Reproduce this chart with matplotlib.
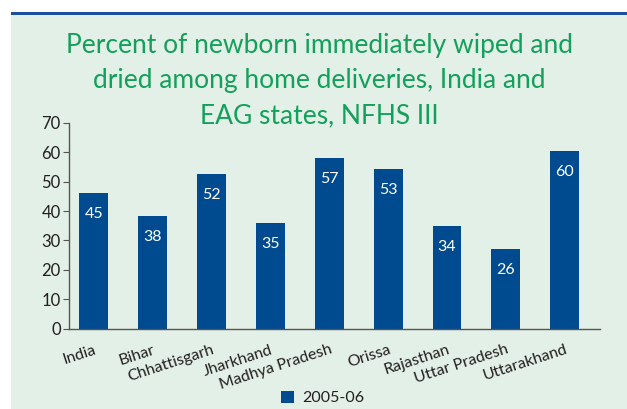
import numpy as np
import matplotlib
matplotlib.use("Agg")
from matplotlib import pyplot as plt
from matplotlib.patches import Rectangle

# data
estados = ["India", "Bihar", "Chhattisgarh", "Jharkhand", "Madhya Pradesh",
           "Orissa", "Rajasthan", "Uttar Pradesh", "Uttarakhand"]
alturas = [46.1, 38.3, 52.6, 35.9, 58.0, 54.3, 34.9, 27.1, 60.4]
etiquetas = ["45", "38", "52", "35", "57", "53", "34", "26", "60"]
yticks = [0, 10, 20, 30, 40, 50, 60, 70]
serie = "2005-06"
titulo = ("Percent of newborn immediately wiped and\n"
          "dried among home deliveries, India and\n"
          "EAG states, NFHS III")

fondo = "#e3f0e7"
azul = "#004a8f"
verde = "#13a05a"
texto = "#231f20"

plt.rcParams["font.family"] = ["Lato", "DejaVu Sans"]

fig = plt.figure(figsize=(6.27, 4.09), dpi=100)
fig.patch.set_facecolor("white")
# panel verde y linea azul arriba
fig.patches.append(Rectangle((11/627, 0), 1, (409-14)/409, transform=fig.transFigure,
                             facecolor=fondo, edgecolor="none", zorder=-2))
fig.patches.append(Rectangle((11/627, (409-15)/409), 1, 3/409, transform=fig.transFigure,
                             facecolor="#1c4f9c", edgecolor="none", zorder=-1))

ax = fig.add_axes([0.110, 0.196, 0.847, 0.504])
ax.set_zorder(2)
ax.set_facecolor("none")
x = np.arange(len(estados))
barras = ax.bar(x, alturas, width=0.49, color=azul, zorder=2)
for xi, h, lab in zip(x, alturas, etiquetas):
    ax.annotate(lab, (xi, h), xytext=(0, -10), textcoords="offset points",
                ha="center", va="top", color="white", fontsize=11.5)

ax.set_xlim(-0.42, 8.6)
ax.set_ylim(0, 70)
ax.set_yticks(yticks)
ax.tick_params(axis="y", length=4, color="#555555", labelsize=12, labelcolor=texto, pad=2)
ax.set_xticks(x)
ax.set_xticklabels(estados, rotation=18, ha="right", rotation_mode="anchor",
                   fontsize=11.5, color=texto)
ax.tick_params(axis="x", length=0, pad=10)
for s in ["top", "right"]:
    ax.spines[s].set_visible(False)
for s in ["left", "bottom"]:
    ax.spines[s].set_color("#555555")
    ax.spines[s].set_linewidth(1)

fig.text((11/627 + 1)/2, 0.919, titulo, ha="center", va="top", color=verde,
         fontsize=19, linespacing=1.5)

leg = fig.legend([barras], [serie], loc="center", bbox_to_anchor=(0.515, 0.027),
                 frameon=False, fontsize=11.5, handlelength=0.8, handleheight=0.8,
                 handletextpad=0.5)
for t in leg.get_texts():
    t.set_color(texto)

fig.savefig("out.png", dpi=100, facecolor=fig.get_facecolor())
